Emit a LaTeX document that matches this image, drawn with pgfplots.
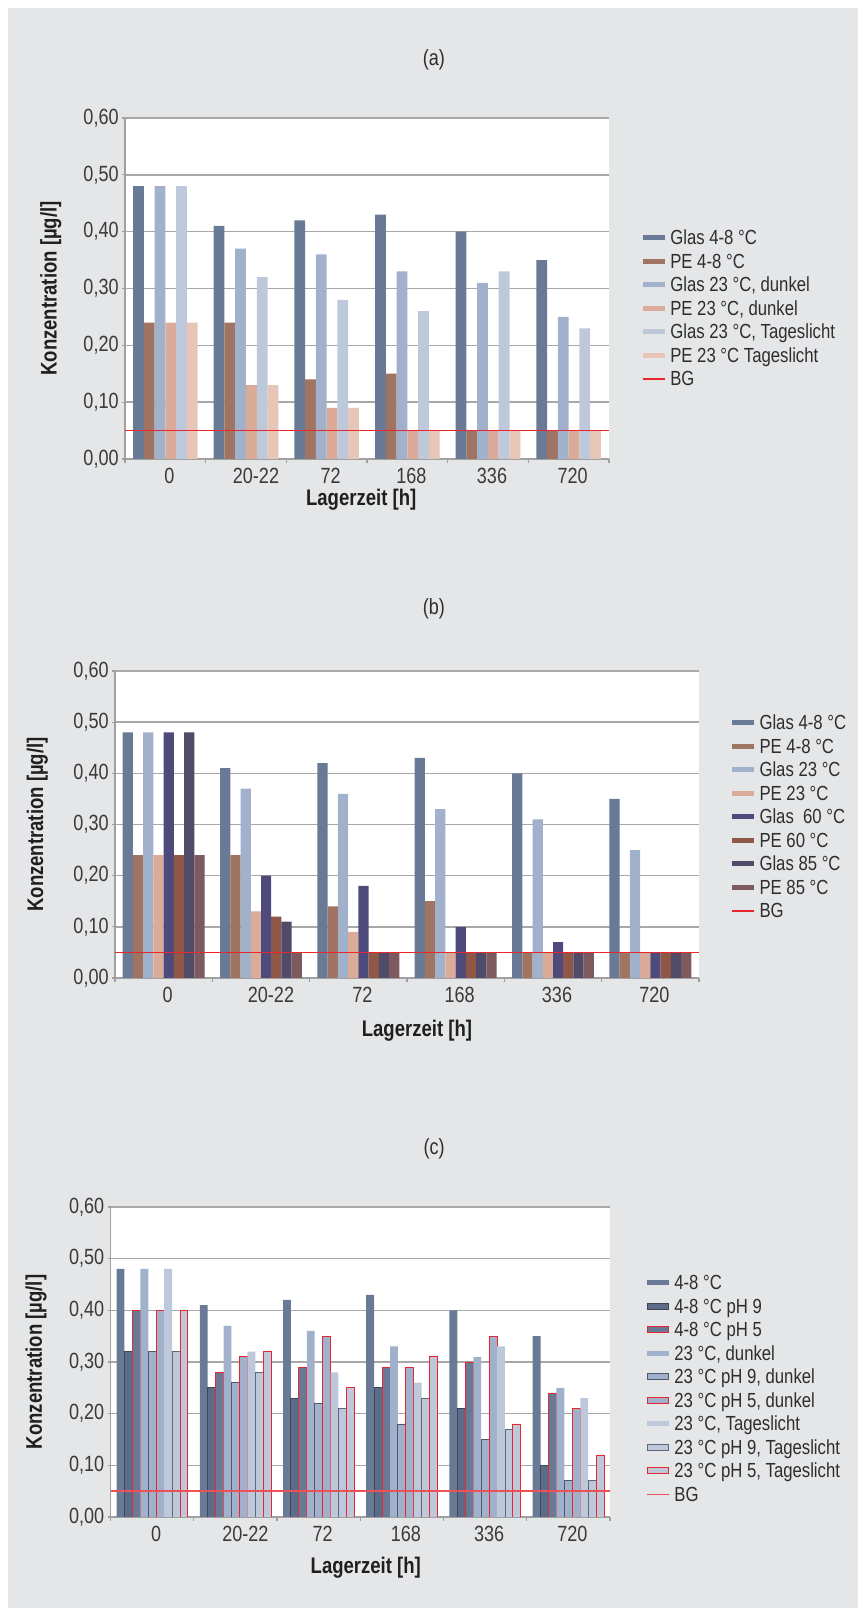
\documentclass[border=0pt]{standalone}
\usepackage{fontspec}
\setmainfont{Liberation Sans}[FakeStretch=0.82]
\usepackage{pgfplots}
\pgfplotsset{compat=1.18}

\definecolor{bggray}{HTML}{E5E6E8}
\definecolor{gridgray}{HTML}{A8A8A8}
\definecolor{axisgray}{HTML}{A0A0A0}
\definecolor{ticktext}{HTML}{3A3A3A}
\definecolor{legtext}{HTML}{2E2E2E}
\definecolor{bgred}{HTML}{E8262E}
\definecolor{glasA}{HTML}{687A96}
\definecolor{peA}{HTML}{A07462}
\definecolor{glasB}{HTML}{A1B1CB}
\definecolor{peB}{HTML}{DAAB98}
\definecolor{glasC}{HTML}{BDC8DB}
\definecolor{peC}{HTML}{E7C6B7}
\definecolor{glasD}{HTML}{4F4A7C}
\definecolor{peD}{HTML}{8F5746}
\definecolor{glasE}{HTML}{504B69}
\definecolor{peE}{HTML}{7C5A5D}
\definecolor{phnine}{HTML}{5C6B87}
\definecolor{bordA}{HTML}{3C4657}
\definecolor{bordB}{HTML}{4D586B}
\definecolor{bordC}{HTML}{5F6677}

\newcommand\tickfont{\fontsize{11}{13}\selectfont}
\newcommand\legfont{\fontsize{10.2}{12}\selectfont}
\newcommand\labfont{\bfseries\fontsize{11.3}{13}\selectfont}
\newcommand\titfont{\fontsize{11}{13}\selectfont}

\pgfplotsset{
  swatch/.style={legend image code/.code={\path[##1] (0pt,2.35pt) rectangle (11pt,4.85pt);}},
  bswatch/.style={legend image code/.code={\path[##1] (0.25pt,2.0pt) rectangle (10.75pt,5.2pt);}},
  lineswatch/.style={legend image code/.code={\draw[##1] (0pt,3.4pt) -- (11pt,3.4pt);}},
  cbar/.style={fill=#1, draw=none, swatch},
  cbbar/.style 2 args={fill=#1, draw=#2, line width=0.45pt, bswatch},
  bgline/.style={sharp plot, draw=bgred, line width=0.7pt, lineswatch},
  panel/.style={
    scale only axis, anchor=north west,
    xmin=-0.5, xmax=5.5, ymin=0, ymax=0.6,
    enlargelimits=false,
    axis background/.style={fill=white},
    axis x line*=bottom, axis y line*=left,
    axis line style={draw=axisgray, line width=0.8pt},
    ytick={0,0.1,0.2,0.3,0.4,0.5,0.6},
    ymajorgrids, grid style={draw=gridgray, line width=0.7pt},
    xtick={0,1,2,3,4,5},
    xticklabels={0,\hspace*{6pt}20-22,72,168,336,720},
    minor xtick={-0.5,0.5,1.5,2.5,3.5,4.5,5.5},
    major x tick style={draw=none},
    minor x tick style={draw=axisgray, line width=0.6pt},
    ytick style={draw=axisgray, line width=0.6pt},
    tick align=outside,
    major tick length=1.5pt, minor tick length=2pt,
    yticklabel style={font=\tickfont, text=ticktext, inner sep=1.5pt,
      /pgf/number format/fixed, /pgf/number format/fixed zerofill,
      /pgf/number format/precision=2, /pgf/number format/use comma,
      /pgf/number format/assume math mode=true},
    xticklabel style={font=\tickfont, text=ticktext, inner sep=0pt, yshift=-3pt, xshift=2pt},
    xlabel={Lagerzeit [h]},
    ylabel={Konzentration [µg/l]},
    xlabel style={anchor=center, font=\labfont, text=black!88},
    ylabel style={anchor=center, font=\labfont, text=black!88},
    title style={anchor=center, font=\titfont, text=legtext},
    legend style={draw=none, fill=none, inner sep=0pt, outer sep=0pt,
      font=\legfont, text=legtext, row sep=2.25pt, column sep=2.5pt,
      anchor=north west,
      cells={anchor=base west},
      nodes={text height=7.5pt, text depth=2pt, inner sep=0pt}},
  }
}

\begin{document}
\begin{tikzpicture}
\path[fill=white] (0pt,0pt) rectangle (429pt,804pt);
\fill[bggray] (4pt,0pt) rectangle (429pt,800pt);

% ---------------- (a) ----------------
\begin{axis}[panel,
  at={(62.5pt,745pt)}, width=242pt, height=170.5pt,
  ybar=0pt, bar width=0.13333,
  title={(a)}, title style={at={(axis description cs:0.638,1.135)}},
  xlabel style={at={(axis description cs:0.488,-0.120)}},
  ylabel style={at={(axis description cs:-0.153,0.5)}},
  legend style={at={(axis description cs:1.068,0.672)}},
]
\addplot[cbar=glasA] coordinates {(0,0.48) (1,0.41) (2,0.42) (3,0.43) (4,0.40) (5,0.35)};
\addplot[cbar=peA] coordinates {(0,0.24) (1,0.24) (2,0.14) (3,0.15) (4,0.05) (5,0.05)};
\addplot[cbar=glasB] coordinates {(0,0.48) (1,0.37) (2,0.36) (3,0.33) (4,0.31) (5,0.25)};
\addplot[cbar=peB] coordinates {(0,0.24) (1,0.13) (2,0.09) (3,0.05) (4,0.05) (5,0.05)};
\addplot[cbar=glasC] coordinates {(0,0.48) (1,0.32) (2,0.28) (3,0.26) (4,0.33) (5,0.23)};
\addplot[cbar=peC] coordinates {(0,0.24) (1,0.13) (2,0.09) (3,0.05) (4,0.05) (5,0.05)};
\addplot[bgline] coordinates {(-0.5,0.05) (5.5,0.05)};
\legend{Glas 4-8 °C, PE 4-8 °C, {Glas 23 °C, dunkel}, {PE 23 °C, dunkel}, {Glas 23 °C, Tageslicht}, PE 23 °C Tageslicht, BG}
\end{axis}

% ---------------- (b) ----------------
\begin{axis}[panel,
  at={(57.5pt,468.5pt)}, width=292pt, height=153.5pt,
  ybar=0pt, bar width=0.10526,
  title={(b)}, title style={at={(axis description cs:0.546,1.163)}},
  xlabel style={at={(axis description cs:0.517,-0.172)}},
  ylabel style={at={(axis description cs:-0.133,0.5)}},
  legend style={at={(axis description cs:1.055,0.857)}},
]
\addplot[cbar=glasA] coordinates {(0,0.48) (1,0.41) (2,0.42) (3,0.43) (4,0.40) (5,0.35)};
\addplot[cbar=peA] coordinates {(0,0.24) (1,0.24) (2,0.14) (3,0.15) (4,0.05) (5,0.05)};
\addplot[cbar=glasB] coordinates {(0,0.48) (1,0.37) (2,0.36) (3,0.33) (4,0.31) (5,0.25)};
\addplot[cbar=peB] coordinates {(0,0.24) (1,0.13) (2,0.09) (3,0.05) (4,0.05) (5,0.05)};
\addplot[cbar=glasD] coordinates {(0,0.48) (1,0.20) (2,0.18) (3,0.10) (4,0.07) (5,0.05)};
\addplot[cbar=peD] coordinates {(0,0.24) (1,0.12) (2,0.05) (3,0.05) (4,0.05) (5,0.05)};
\addplot[cbar=glasE] coordinates {(0,0.48) (1,0.11) (2,0.05) (3,0.05) (4,0.05) (5,0.05)};
\addplot[cbar=peE] coordinates {(0,0.24) (1,0.05) (2,0.05) (3,0.05) (4,0.05) (5,0.05)};
\addplot[bgline] coordinates {(-0.5,0.05) (5.5,0.05)};
\legend{Glas 4-8 °C, PE 4-8 °C, Glas 23 °C, PE 23 °C, Glas\ \ 60 °C, PE 60 °C, Glas 85 °C, PE 85 °C, BG}
\end{axis}

% ---------------- (c) ----------------
\begin{axis}[panel,
  at={(55.3pt,200.5pt)}, width=249.7pt, height=155pt,
  ybar=0pt, bar width=0.09524,
  title={(c)}, title style={at={(axis description cs:0.648,1.148)}},
  xlabel style={at={(axis description cs:0.511,-0.165)}},
  ylabel style={at={(axis description cs:-0.149,0.5)}},
  legend style={at={(axis description cs:1.072,0.781)}},
]
\addplot[cbar=glasA] coordinates {(0,0.48) (1,0.41) (2,0.42) (3,0.43) (4,0.40) (5,0.35)};
\addplot[cbbar={phnine}{bordA}] coordinates {(0,0.32) (1,0.25) (2,0.23) (3,0.25) (4,0.21) (5,0.10)};
\addplot[cbbar={glasA}{bgred}] coordinates {(0,0.40) (1,0.28) (2,0.29) (3,0.29) (4,0.30) (5,0.24)};
\addplot[cbar=glasB] coordinates {(0,0.48) (1,0.37) (2,0.36) (3,0.33) (4,0.31) (5,0.25)};
\addplot[cbbar={glasB}{bordB}] coordinates {(0,0.32) (1,0.26) (2,0.22) (3,0.18) (4,0.15) (5,0.07)};
\addplot[cbbar={glasB}{bgred}] coordinates {(0,0.40) (1,0.31) (2,0.35) (3,0.29) (4,0.35) (5,0.21)};
\addplot[cbar=glasC] coordinates {(0,0.48) (1,0.32) (2,0.28) (3,0.26) (4,0.33) (5,0.23)};
\addplot[cbbar={glasC}{bordC}] coordinates {(0,0.32) (1,0.28) (2,0.21) (3,0.23) (4,0.17) (5,0.07)};
\addplot[cbbar={glasC}{bgred}] coordinates {(0,0.40) (1,0.32) (2,0.25) (3,0.31) (4,0.18) (5,0.12)};
\addplot[bgline, draw=bgred!80] coordinates {(-0.5,0.05) (5.5,0.05)};
\legend{4-8 °C, 4-8 °C pH 9, 4-8 °C pH 5, {23 °C, dunkel}, {23 °C pH 9, dunkel}, {23 °C pH 5, dunkel}, {23 °C, Tageslicht}, {23 °C pH 9, Tageslicht}, {23 °C pH 5, Tageslicht}, BG}
\end{axis}
\end{tikzpicture}
\end{document}
